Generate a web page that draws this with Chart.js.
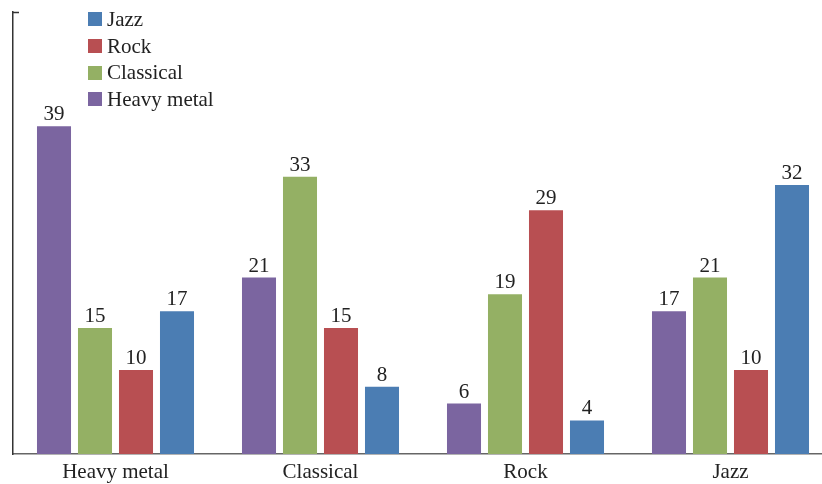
<!DOCTYPE html>
<html>
<head>
<meta charset="utf-8">
<script src="https://cdn.jsdelivr.net/npm/chart.js@4.4.1/dist/chart.umd.min.js"></script>
<style>
  html, body { margin: 0; padding: 0; background: #fff; overflow: hidden; }
  #wrap { position: relative; width: 822px; height: 484px; overflow: hidden; }
  #c { position: absolute; left: 0; top: 0; }
  #legend { position: absolute; left: 88px; top: 6px; font-family: "Liberation Serif", "DejaVu Serif", serif; font-size: 21px; color: #222; }
  #legend .item { display: flex; align-items: center; height: 26.7px; }
  #legend .sw { width: 14px; height: 14px; margin-right: 5px; }
</style>
</head>
<body>
<div id="wrap">
  <!-- plot runs slightly past the right edge; the frame crops it -->
  <canvas id="c" width="833" height="484"></canvas>
  <div id="legend"></div>
</div>
<script>
// Genres on the x axis
const categories = ["Heavy metal", "Classical", "Rock", "Jazz"];

// One series per preferred genre
const seriesNames = ["Heavy metal", "Classical", "Rock", "Jazz"];
const heavyMetal = [39, 21, 6, 17];
const classical  = [15, 33, 19, 21];
const rock       = [10, 15, 29, 10];
const jazz       = [17, 8, 4, 32];
const seriesColors = ["#7b65a0", "#94b064", "#b84f52", "#4b7db3"];

const yMax = 52.6;
const serif = '"Liberation Serif", "DejaVu Serif", serif';

const values = [heavyMetal, classical, rock, jazz];
const datasets = seriesNames.map((name, i) => ({
  label: name,
  data: values[i],
  backgroundColor: seriesColors[i],
  borderWidth: 0,
  categoryPercentage: 0.8,
  barPercentage: 0.83
}));

// Value labels above each bar
const valueLabels = {
  id: 'valueLabels',
  afterDatasetsDraw(chart) {
    const ctx = chart.ctx;
    ctx.save();
    ctx.font = '21px ' + serif;
    ctx.fillStyle = '#222';
    ctx.textAlign = 'center';
    ctx.textBaseline = 'alphabetic';
    chart.data.datasets.forEach((ds, di) => {
      chart.getDatasetMeta(di).data.forEach((bar, i) => {
        ctx.fillText(String(ds.data[i]), bar.x, bar.y - 6);
      });
    });
    ctx.restore();
  }
};

// Small inward tick at the top of the value axis
const topTick = {
  id: 'topTick',
  afterDraw(chart) {
    const y = chart.scales.y;
    const ctx = chart.ctx;
    const py = Math.round(y.getPixelForValue(yMax)) + 0.5;
    ctx.save();
    ctx.strokeStyle = '#333';
    ctx.lineWidth = 1.5;
    ctx.beginPath();
    ctx.moveTo(chart.chartArea.left, py);
    ctx.lineTo(chart.chartArea.left + 6, py);
    ctx.stroke();
    ctx.restore();
  }
};

new Chart(document.getElementById('c'), {
  type: 'bar',
  data: { labels: categories, datasets },
  plugins: [valueLabels, topTick],
  options: {
    responsive: false,
    animation: false,
    layout: { padding: { left: 5, top: 12, right: 0, bottom: -7 } },
    plugins: { legend: { display: false }, tooltip: { enabled: false } },
    scales: {
      x: {
        grid: { display: false, drawTicks: false, tickLength: 0 },
        border: { color: '#666', width: 1.5 },
        ticks: { font: { family: serif, size: 21, lineHeight: 1 }, color: '#222', padding: 8 }
      },
      y: {
        min: 0,
        max: yMax,
        grid: { display: false },
        border: { color: '#333', width: 1.5 },
        ticks: { display: false }
      }
    }
  }
});

// Legend listed in reverse series order
const legend = document.getElementById('legend');
for (let i = seriesNames.length - 1; i >= 0; i--) {
  const item = document.createElement('div');
  item.className = 'item';
  const sw = document.createElement('span');
  sw.className = 'sw';
  sw.style.background = seriesColors[i];
  const tx = document.createElement('span');
  tx.textContent = seriesNames[i];
  item.appendChild(sw);
  item.appendChild(tx);
  legend.appendChild(item);
}
</script>
</body>
</html>
